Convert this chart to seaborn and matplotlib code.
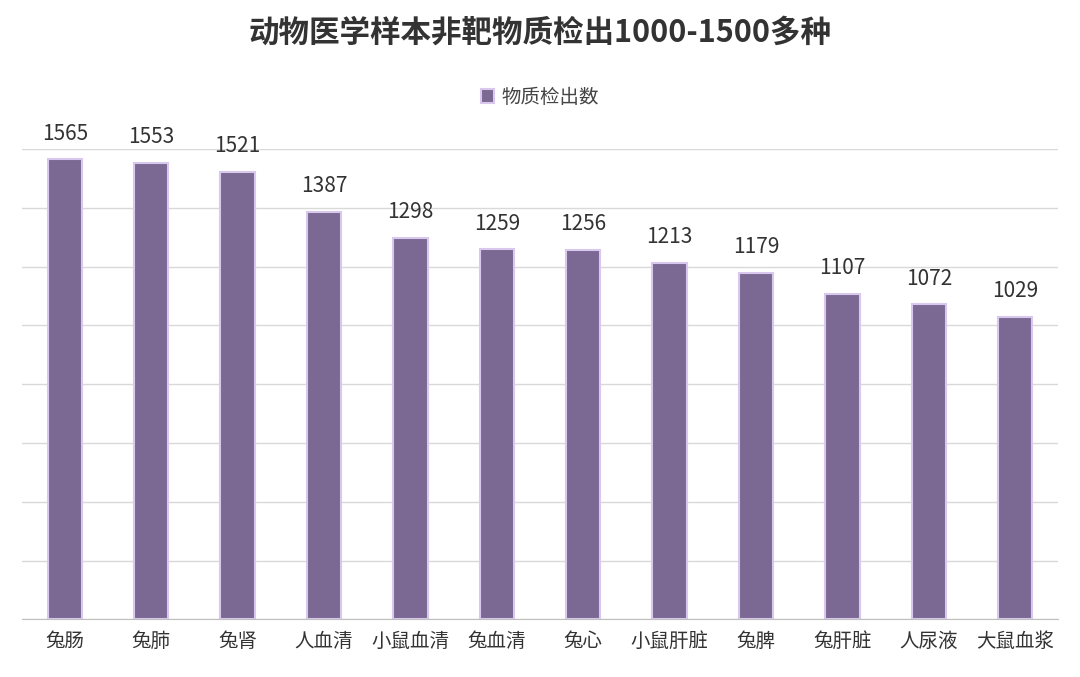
import matplotlib
matplotlib.use("Agg")
import matplotlib.pyplot as plt
import seaborn as sns
import pandas as pd

plt.rcParams["font.family"] = "sans-serif"
plt.rcParams["font.sans-serif"] = ["Noto Sans CJK SC", "Noto Sans CJK JP", "Noto Sans CJK TC",
                                   "Noto Sans CJK KR", "DejaVu Sans"]

# data
categories = ["兔肠", "兔肺", "兔肾", "人血清", "小鼠血清", "兔血清", "兔心",
              "小鼠肝脏", "兔脾", "兔肝脏", "人尿液", "大鼠血浆"]
counts = [1565, 1553, 1521, 1387, 1298, 1259, 1256, 1213, 1179, 1107, 1072, 1029]
series_name = "物质检出数"
title = "动物医学样本非靶物质检出1000-1500多种"

df = pd.DataFrame({"cat": categories, "n": counts})

fig, ax = plt.subplots(figsize=(10.8, 6.77), dpi=100)
fig.subplots_adjust(left=0.02, right=0.98, top=0.78, bottom=0.085)

sns.barplot(data=df, x="cat", y="n", color="#7B6893", width=0.4,
            edgecolor="#D9C8EE", linewidth=1.5, saturation=1, ax=ax,
            label=series_name)

for i, v in enumerate(counts):
    ax.text(i, v + 50, str(v), ha="center", va="bottom", fontsize=15, color="#333333")

ax.set_ylim(0, 1600)
ax.set_yticks(range(0, 1601, 200))
ax.set_yticklabels([])
ax.tick_params(axis="y", length=0)
ax.tick_params(axis="x", length=0, labelsize=14, colors="#333333", pad=8)
ax.yaxis.grid(True, color="#D9D9D9", linewidth=1)
ax.set_axisbelow(True)
ax.set_xlabel("")
ax.set_ylabel("")
for s in ["top", "right", "left"]:
    ax.spines[s].set_visible(False)
ax.spines["bottom"].set_color("#BFBFBF")
ax.set_xlim(-0.5, len(categories) - 0.5)

leg = ax.legend(loc="center", bbox_to_anchor=(0.5, 1.11), frameon=False,
                fontsize=14, handlelength=0.7, handleheight=0.7, handletextpad=0.4)
for t in leg.get_texts():
    t.set_color("#444444")

fig.suptitle(title, fontsize=22, fontweight="bold", color="#333333", y=0.975)

fig.savefig("out.png", dpi=100, facecolor="white")
